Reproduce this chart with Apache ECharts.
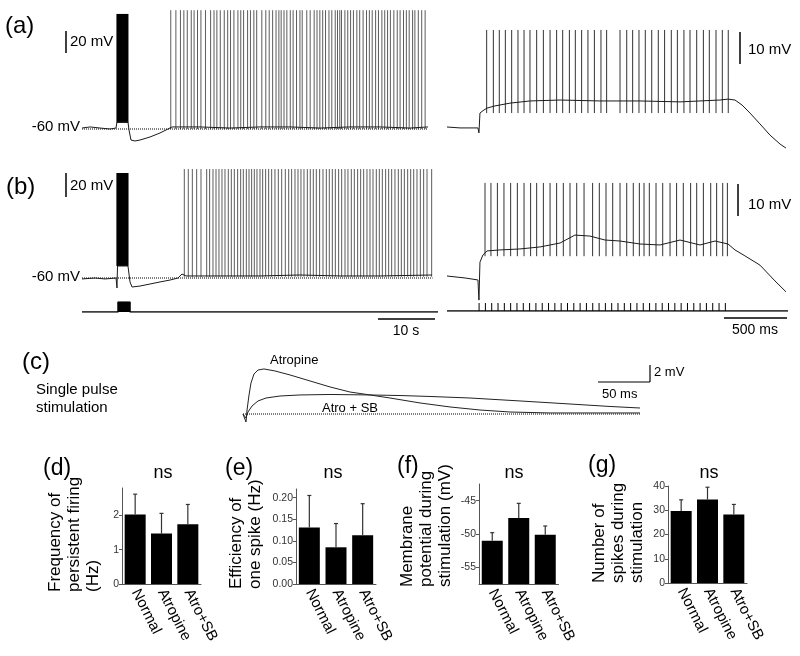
<!DOCTYPE html>
<html><head><meta charset="utf-8">
<script src="https://cdn.jsdelivr.net/npm/echarts@6/dist/echarts.min.js"></script>
<style>html,body{margin:0;padding:0;background:#fff}#c{width:800px;height:656px}</style>
</head><body><div id="c"></div><script>
// ---------- DATA ----------
// (a) left: membrane potential envelope [s, mV]
const aLeftTrace = [[0,-59.1],[1.41,-58.1],[3.16,-59.1],[4.92,-60],[5.98,-59.1],[6.15,-53.5],[8.08,-53.5],[8.26,-60.9],[8.61,-70.2],[9.31,-71.1],[10.19,-70.2],[11.95,-67.4],[13.71,-63.7],[15.11,-60],[15.82,-58.1],[20.74,-58.1],[26.01,-59.1],[31.28,-58.1],[36.56,-58.1],[41.83,-59.1],[47.1,-58.1],[52.37,-58.1],[57.64,-59.1],[60.81,-58.1]];
const aLeftSpikeTimes = [15.6,16.5,17.3,17.9,18.5,19.2,19.7,20.3,20.9,21.7,22.6,23.2,23.7,24.3,25.0,25.6,26.1,26.7,27.4,27.9,28.4,29.1,29.6,30.2,30.7,31.6,32.3,32.9,33.5,34.1,34.6,35.0,35.5,36.0,36.6,37.1,37.7,38.3,38.7,39.5,40.1,40.8,41.3,41.8,42.3,42.8,43.4,43.9,44.5,44.9,45.3,45.6,46.2,46.7,47.2,47.7,48.3,48.8,49.4,50.0,50.5,51.0,51.6,52.1,52.7,53.2,53.7,54.2,54.8,55.4,55.9,56.5,57.0,57.5,58.1,58.5,59.1,59.7,60.3];
const aLeftSpikeRange = [-60, 50];
const aBurstRange = [-54, 46.5];
const aBurstOffset = 5.84;
// (a) right: expanded stimulation [s, mV]
const aRightTrace = [[0,-60],[0.103,-60.3],[0.245,-60.3],[0.253,-61.9],[0.261,-55.5],[0.293,-54.5],[0.317,-53.9],[0.38,-53.2],[0.499,-52.3],[0.657,-51.6],[0.895,-51.3],[1.211,-51.6],[1.528,-51.6],[1.845,-51.9],[2.003,-51.6],[2.161,-51.3],[2.225,-51],[2.28,-51.3],[2.336,-52.9],[2.399,-55.5],[2.478,-59],[2.557,-62.6],[2.637,-65.5],[2.684,-66.8]];
const aRightSpikeTimes = [0.314,0.367,0.414,0.462,0.512,0.562,0.610,0.657,0.710,0.763,0.816,0.868,0.916,0.969,1.016,1.066,1.116,1.167,1.219,1.264,1.370,1.423,1.470,1.520,1.570,1.621,1.673,1.723,1.776,1.824,1.876,1.924,1.977,2.030,2.077,2.130,2.180,2.227];
const aRightSpikeRange = [-55.5, -28.7];
// (b) left
const bLeftTrace = [[0,-60.8],[2.28,-60],[4.04,-60.8],[5.98,-60],[6.15,-68.3],[6.24,-50],[8.08,-50],[8.44,-63.3],[8.79,-67.5],[10.19,-66.7],[11.95,-65],[13.71,-63.3],[15.47,-61.7],[16.87,-60],[17.57,-56.7],[18.28,-58.3],[24.25,-58.3],[31.28,-58.3],[38.31,-57.5],[45.34,-58.3],[52.37,-58.3],[61.51,-57.5]];
const bLeftSpikeTimes = [17.98,18.68,19.39,20.15,20.91,21.91,22.43,23.02,23.55,24.07,24.60,25.13,25.71,26.24,26.77,27.35,27.88,28.35,28.88,29.35,29.81,30.28,30.75,31.28,31.75,32.27,32.80,33.33,33.91,34.50,35.09,35.73,36.32,36.84,37.43,37.96,38.48,39.01,39.60,40.12,40.65,41.18,41.76,42.35,42.94,43.46,43.99,44.52,45.10,45.63,46.22,46.74,47.33,47.86,48.44,48.97,49.50,50.08,50.61,51.14,51.72,52.25,52.78,53.36,53.89,54.42,55.00,55.59,56.12,56.65,57.23,57.76,58.29,58.87,59.46,60.04,60.63,61.45];
const bLeftSpikeRange = [-59, 30.8];
const bBurstRange = [-50, 27.5];
const bBurstOffset = 5.85;
const bStimTrace = [[0,0],[6.33,0],[6.33,1],[8.44,1],[8.44,0],[62.57,0]];
// (b) right
const bRightTrace = [[0,-60],[0.143,-60.6],[0.245,-61.2],[0.253,-67.3],[0.261,-55.8],[0.285,-53.6],[0.317,-52.4],[0.42,-52.1],[0.578,-51.8],[0.736,-51.2],[0.895,-50],[1.013,-47.6],[1.132,-47.9],[1.251,-49.1],[1.37,-49.4],[1.528,-50.3],[1.687,-50.6],[1.845,-49.1],[2.003,-50.6],[2.122,-49.4],[2.225,-50.3],[2.28,-52.1],[2.359,-53.9],[2.478,-56.7],[2.597,-61.5],[2.684,-64.8]];
const bRightSpikeTimes = [0.301,0.348,0.399,0.451,0.504,0.557,0.610,0.662,0.710,0.763,0.816,0.868,0.921,0.974,1.027,1.085,1.153,1.206,1.259,1.312,1.370,1.423,1.475,1.523,1.560,1.602,1.655,1.708,1.766,1.818,1.871,1.929,1.977,2.030,2.088,2.135,2.183,2.220];
const bRightSpikeRange = [-54, -31.8];
const stimPulseTimes = [0.254,0.304,0.354,0.404,0.454,0.504,0.554,0.604,0.654,0.704,0.754,0.804,0.854,0.904,0.954,1.004,1.054,1.104,1.154,1.204,1.254,1.304,1.354,1.404,1.454,1.504,1.554,1.604,1.654,1.704,1.754,1.804,1.854,1.904,1.954,2.004,2.054,2.104,2.154,2.204];
// (c) single pulse [ms, mV]
const cAtropine = [[0,0],[2.1,0],[3.2,-1.0],[4.3,0.5],[6.4,2.38],[8.5,3.88],[11.7,5.0],[16.0,5.5],[22.3,5.63],[34.0,5.38],[50.0,4.88],[71.3,4.13],[92.6,3.38],[113.8,2.75],[135.1,2.38],[156.4,2.0],[188.3,1.38],[220.2,0.88],[252.1,0.5],[284.0,0.25],[326.6,0.13],[379.8,0.13],[422.3,0.13]];
const cAtroSB = [[0,0],[2.1,0],[3.2,-0.5],[5.3,0.25],[9.6,1.0],[16.0,1.63],[24.5,2.0],[39.4,2.25],[60.6,2.38],[92.6,2.44],[135.1,2.38],[167.0,2.31],[198.9,2.19],[241.5,2.0],[294.7,1.63],[347.9,1.25],[390.4,0.94],[422.3,0.75]];
// (d)-(g) bar charts
const groups = ['Normal','Atropine','Atro+SB'];
const dMean = [2.03, 1.47, 1.74], dErr = [0.59, 0.59, 0.58];
const eMean = [0.131, 0.085, 0.113], eErr = [0.074, 0.055, 0.073];
const fMean = [-51.0, -47.6, -50.1], fErr = [1.2, 2.2, 1.3];
const gMean = [29.7, 34.4, 28.2], gErr = [4.6, 5.1, 4.2];
const dTicks = [0,1,2], eTicks = [0,0.05,0.1,0.15,0.2], fTicks = [-55,-50,-45], gTicks = [0,10,20,30,40];

// ---------- CHART ----------
const FONT = '"Liberation Sans", Arial, Helvetica, sans-serif';
const chart = echarts.init(document.getElementById('c'), null, {renderer:'canvas'});
function G(left, top, width, height){ return {left, top, width, height, outerBoundsMode:'none', containLabel:false}; }
function hx(i, min, max){ return {type:'value', gridIndex:i, min, max, show:false}; }
function traceLine(i, data, color, width, dash){
  return {type:'line', xAxisIndex:i, yAxisIndex:i, data, showSymbol:false, symbol:'none', silent:true, animation:false,
    lineStyle:{color:color||'#1a1a1a', width:width||1, type:dash||'solid'}, z:3};
}
function vlines(i, times, lo, hi, color, width, offset){
  return {type:'custom', xAxisIndex:i, yAxisIndex:i, silent:true, animation:false, clip:false, z:2,
    data: times.map(t => [t + (offset||0), lo, hi]), encode:{x:0, y:[1,2]},
    renderItem: (p, api) => {
      const a = api.coord([api.value(0), api.value(1)]);
      const b = api.coord([api.value(0), api.value(2)]);
      return {type:'line', shape:{x1:a[0], y1:a[1], x2:b[0], y2:b[1]}, style:{stroke:color, lineWidth:width}};
    }};
}
function barAxes(i, min, max, ticks, fmt, extra){
  const x = {type:'category', gridIndex:i, data:groups,
    axisLine:{show:true, lineStyle:{color:'#555', width:1}}, axisTick:{show:false},
    axisLabel:{rotate:-63, fontSize:15, color:'#000', margin:6, fontFamily:FONT, interval:0}};
  const y = Object.assign({type:'value', gridIndex:i, min, max, splitLine:{show:false},
    axisLine:{show:true, lineStyle:{color:'#555', width:1}},
    axisTick:{show:true, length:3, customValues:ticks, lineStyle:{color:'#555'}},
    axisLabel:{fontSize:10.5, color:'#333', margin:3, customValues:ticks, fontFamily:FONT, formatter:fmt}}, extra||{});
  return [x, y];
}
function bars(i, means){
  return {type:'bar', xAxisIndex:i, yAxisIndex:i, data:means, barWidth:21, itemStyle:{color:'#000'}, silent:true, animation:false};
}
function errBars(i, means, errs){
  return {type:'custom', xAxisIndex:i, yAxisIndex:i, silent:true, animation:false, clip:false, z:5,
    data: means.map((m,k)=>[k, m, m+errs[k]]), encode:{x:0, y:[1,2]},
    renderItem:(p, api)=>{
      const a = api.coord([api.value(0), api.value(1)]);
      const b = api.coord([api.value(0), api.value(2)]);
      return {type:'group', children:[
        {type:'line', shape:{x1:a[0], y1:a[1], x2:b[0], y2:b[1]}, style:{stroke:'#333', lineWidth:1.2}},
        {type:'line', shape:{x1:b[0]-2, y1:b[1], x2:b[0]+2, y2:b[1]}, style:{stroke:'#333', lineWidth:1.2}}]};
    }};
}
const ba7 = barAxes(7, 0, 2.8, dTicks, v=>String(v));
const ba8 = barAxes(8, 0, 0.22, eTicks, v=>v.toFixed(2));
const ba9 = barAxes(9, -57.5, -42.5, fTicks, v=>String(v), {startValue:-57.5});
const ba10 = barAxes(10, 0, 40, gTicks, v=>String(v));

function txt(x, y, text, size, align, extra){
  return Object.assign({type:'text', x, y, silent:true, style:{text, font:size+'px '+FONT, fill:'#000',
    textAlign:align||'left', textVerticalAlign:'middle', align:align||'left', verticalAlign:'middle'}}, extra||{});
}
function vtxt(x, y, text){
  return {type:'text', x, y, rotation:Math.PI/2, silent:true, style:{text, font:'17px '+FONT, fill:'#000', lineHeight:19,
    textAlign:'left', textVerticalAlign:'top', align:'left', verticalAlign:'top'}};
}
function ln(x1,y1,x2,y2,w){ return {type:'line', silent:true, shape:{x1,y1,x2,y2}, style:{stroke:'#000', lineWidth:w||1.5}}; }

const option = {
  animation:false,
  textStyle:{fontFamily:FONT},
  grid:[G(82,4.8,352.8,140.4), G(447,18.5,341,139.5), G(82,164,352.8,128.4), G(82,302,356,10), G(447,170.4,341,132), G(447,303,341,8), G(243,362,397,64),
        G(122,488,79,96), G(296,489,80,95), G(479,484,79.5,100), G(668,486,79,97)],
  xAxis:[hx(0,0,62), hx(1,0,2.7), hx(2,0,62), hx(3,0,62.57), hx(4,0,2.7), hx(5,0,2.7), hx(6,0,422.3), ba7[0], ba8[0], ba9[0], ba10[0]],
  yAxis:[hx(0,-75,55), hx(1,-70,-25), hx(2,-72,35), hx(3,0,1), hx(4,-68,-28), hx(5,0,1), hx(6,-1.5,6.5), ba7[1], ba8[1], ba9[1], ba10[1]],
  series:[
    traceLine(0, [[0,-60],[60.8,-60]], '#000', 1, 'dotted'),
    traceLine(0, aLeftTrace),
    vlines(0, aLeftSpikeTimes, aLeftSpikeRange[0], aLeftSpikeRange[1], '#4a4a4a', 0.9),
    vlines(0, aRightSpikeTimes, aBurstRange[0], aBurstRange[1], '#000', 1, aBurstOffset),
    traceLine(1, aRightTrace),
    vlines(1, aRightSpikeTimes, aRightSpikeRange[0], aRightSpikeRange[1], '#333', 1),
    traceLine(2, [[0,-60],[61.6,-60]], '#000', 1, 'dotted'),
    traceLine(2, bLeftTrace),
    vlines(2, bLeftSpikeTimes, bLeftSpikeRange[0], bLeftSpikeRange[1], '#4a4a4a', 0.9),
    vlines(2, bRightSpikeTimes, bBurstRange[0], bBurstRange[1], '#000', 1, bBurstOffset),
    Object.assign(traceLine(3, bStimTrace, '#000', 1.5), {areaStyle:{color:'#000', opacity:1}}),
    traceLine(4, bRightTrace),
    vlines(4, bRightSpikeTimes, bRightSpikeRange[0], bRightSpikeRange[1], '#333', 1),
    traceLine(5, [[0,0],[2.7,0]], '#000', 1.5),
    vlines(5, stimPulseTimes, 0, 1, '#000', 1),
    traceLine(6, [[0,0],[422.3,0]], '#000', 1, 'dotted'),
    traceLine(6, cAtropine, '#222', 1),
    traceLine(6, cAtroSB, '#222', 1),
    bars(7, dMean), errBars(7, dMean, dErr),
    bars(8, eMean), errBars(8, eMean, eErr),
    bars(9, fMean), errBars(9, fMean, fErr),
    bars(10, gMean), errBars(10, gMean, gErr)
  ],
  graphic:{elements:[
    txt(5, 26, '(a)', 24), txt(6, 187, '(b)', 24), txt(22, 362, '(c)', 24),
    txt(80, 127, '-60 mV', 15, 'right'), txt(80, 277, '-60 mV', 15, 'right'),
    ln(66,31,66,53), txt(70, 42, '20 mV', 15),
    ln(66,173,66,197), txt(70, 186, '20 mV', 15),
    ln(740,32,740,64), txt(748, 50, '10 mV', 15),
    ln(738,184,738,216), txt(748, 205, '10 mV', 15),
    ln(378,319,435,319), txt(406, 331, '10 s', 14, 'center'),
    ln(724,318,787,318), txt(755, 330, '500 ms', 14, 'center'),
    txt(36, 390, 'Single pulse', 15), txt(36, 408, 'stimulation', 15),
    txt(270, 360, 'Atropine', 13), txt(322, 408, 'Atro + SB', 13),
    ln(598,382,650,382,1.2), ln(650,365,650,382,1.2), txt(654, 372, '2 mV', 13), txt(602, 394, '50 ms', 13),
    txt(43, 469, '(d)', 23), txt(225, 469, '(e)', 23), txt(397, 467, '(f)', 23), txt(588, 466, '(g)', 23),
    txt(163, 473, 'ns', 18, 'center'), txt(333, 473, 'ns', 18, 'center'), txt(514, 473, 'ns', 18, 'center'), txt(709, 473, 'ns', 18, 'center'),
    vtxt(46, 592, 'Frequency of\npersistent firing\n(Hz)'),
    vtxt(227, 589, 'Efficiency of\none spike (Hz)'),
    vtxt(398, 587, 'Membrane\npotential during\nstimulation (mV)'),
    vtxt(590, 583, 'Number of\nspikes during\nstimulation')
  ]}
};
chart.setOption(option);
</script></body></html>
